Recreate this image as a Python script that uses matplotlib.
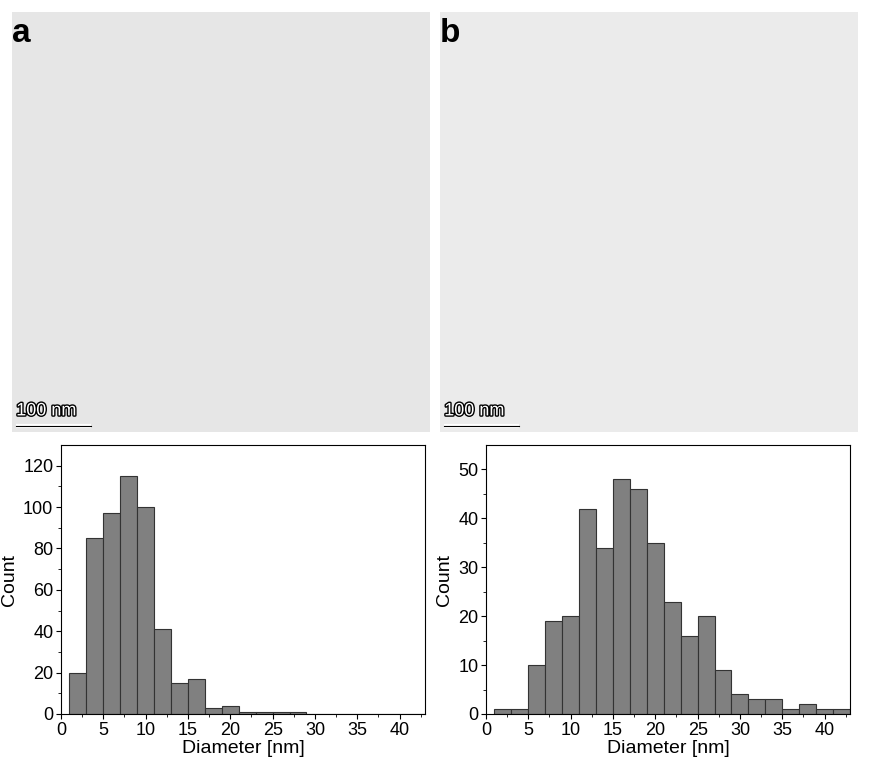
import matplotlib.pyplot as plt
import matplotlib.patheffects as pe
import numpy as np

bin_edges = np.arange(1, 45, 2)
counts_a = [20, 85, 97, 115, 100, 41, 15, 17, 3, 4, 1, 1, 1, 1, 0, 0, 0, 0, 0, 0, 0]
counts_b = [1, 1, 10, 19, 20, 42, 34, 48, 46, 35, 23, 16, 20, 9, 4, 3, 3, 1, 2, 1, 1]

plt.rcParams['font.family'] = ['Liberation Sans', 'DejaVu Sans']
fig = plt.figure(figsize=(8.72, 7.68), dpi=100)

# TEM image panels (placeholders: plain gray fields with label and scale bar)
for left, label, shade in [(12, 'a', '#e6e6e6'), (440, 'b', '#ebebeb')]:
    ax = fig.add_axes([left / 872, 1 - 432 / 768, 418 / 872, 420 / 768])
    ax.set_facecolor(shade)
    ax.set_xlim(0, 1)
    ax.set_ylim(0, 1)
    ax.set_xticks([])
    ax.set_yticks([])
    for s in ax.spines.values():
        s.set_visible(False)
    ax.text(0.0, 0.985, label, fontsize=24, fontweight='bold', va='top', ha='left')
    ax.text(0.01, 0.03, '100 nm', fontsize=13, color='white', va='bottom',
            path_effects=[pe.withStroke(linewidth=2, foreground='black')])
    ax.plot([0.01, 0.19], [0.015, 0.015], color='white', lw=3, solid_capstyle='butt')
    ax.plot([0.01, 0.19], [0.015, 0.015], color='black', lw=0.8)

def hist(left, counts, ymax, ystep):
    ax = fig.add_axes([left / 872, 54 / 768, 364 / 872, 269 / 768])
    ax.bar(bin_edges[:-1], counts, width=2, align='edge', color='#808080',
           edgecolor='#333333', linewidth=0.8)
    ax.set_xlim(0, 43)
    ax.set_ylim(0, ymax)
    ax.set_xticks(range(0, 45, 5))
    ax.set_yticks(np.arange(0, ymax, ystep))
    ax.set_xticks(np.arange(2.5, 43, 5), minor=True)
    ax.set_yticks(np.arange(ystep / 2, ymax, ystep), minor=True)
    ax.tick_params(labelsize=13, pad=2)
    ax.set_xlabel('Diameter [nm]', fontsize=14, labelpad=1)
    ax.set_ylabel('Count', fontsize=14)
    return ax

hist(61, counts_a, 130, 20)
hist(486, counts_b, 55, 10)

fig.savefig('out.png', dpi=100)
